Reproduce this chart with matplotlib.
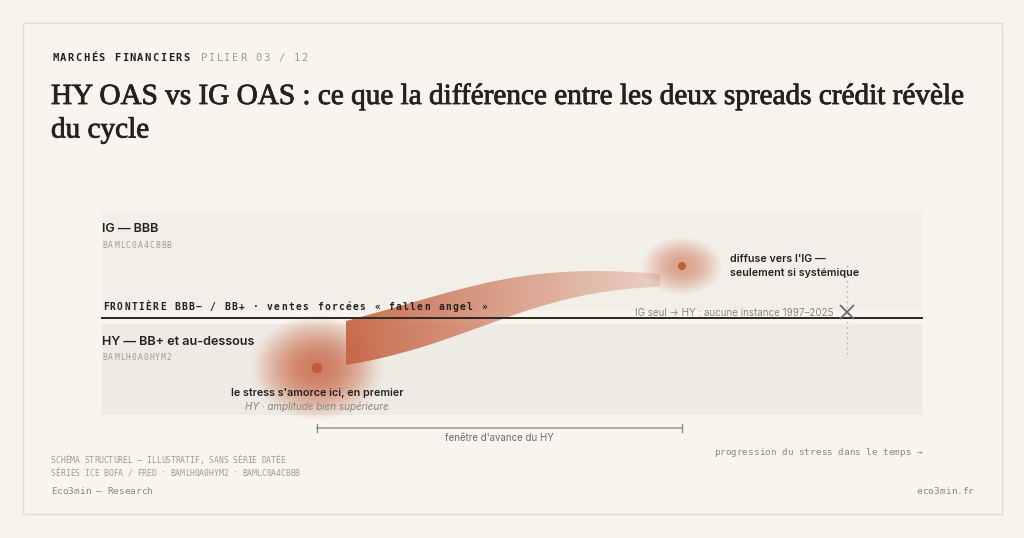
import numpy as np
import matplotlib
matplotlib.use("Agg")
import matplotlib.pyplot as plt
import matplotlib.patheffects as pe
from matplotlib.patches import Rectangle, PathPatch
from matplotlib.path import Path

W, H = 1024, 538

# texts
kicker = "MARCHÉS FINANCIERS"
kicker_tag = "PILIER 03 / 12"
title_lines = ["HY OAS vs IG OAS : ce que la différence entre les deux spreads crédit révèle",
               "du cycle"]
band_names = ["IG — BBB", "HY — BB+ et au-dessous"]
band_codes = ["BAMLC0A4CBBB", "BAMLH0A0HYM2"]
frontier_label = "FRONTIÈRE BBB− / BB+ · ventes forcées « fallen angel »"
start_label = ["le stress s'amorce ici, en premier", "HY · amplitude bien supérieure"]
end_label = ["diffuse vers l'IG —", "seulement si systémique"]
no_instance_label = "IG seul → HY : aucune instance 1997–2025"
window_label = "fenêtre d'avance du HY"
time_label = "progression du stress dans le temps →"
footer_notes = ["SCHÉMA STRUCTUREL — ILLUSTRATIF, SANS SÉRIE DATÉE",
                "SÉRIES ICE BOFA / FRED · BAMLH0A0HYM2 · BAMLC0A4CBBB"]
brand_left = "Eco3min — Research"
brand_right = "eco3min.fr"

# schematic geometry (pixel units)
band_top = [212, 324]
band_bottom = [311, 415]
band_left, band_right = 102, 922
band_colors = ["#f2efe9", "#eeebe4"]
frontier_y = 317.5
stress_x = [317, 682]
stress_y = [368, 266]
glow_rx = [68, 42]
glow_ry = [54, 30]
glow_peak = [0.82, 0.55]
dot_r = [5.2, 4.0]
ribbon_top = [(346, 321), (470, 288), (520, 262), (660, 274)]
ribbon_bottom = [(346, 365), (470, 345), (530, 290), (660, 287)]
no_instance_x = 846.5
no_instance_y = 312
window_y = 427.5

BG = "#f7f4ee"
DARK = "#242220"
GREY = "#8a8680"
LIGHTGREY = "#a09c95"
RUST = (0.78, 0.39, 0.26)
DOT = "#c25a38"
SANS = ["Inter", "DejaVu Sans"]
MONO = ["DejaVu Sans Mono"]

fig = plt.figure(figsize=(W / 100, H / 100), dpi=100, facecolor=BG)
ax = fig.add_axes([0, 0, 1, 1])
ax.set_xlim(0, W)
ax.set_ylim(H, 0)
ax.axis("off")
ax.set_facecolor(BG)

# card
ax.add_patch(Rectangle((22.7, 22.7), 979, 491.6, facecolor="#f8f5ef",
                       edgecolor="#e2dccd", lw=1.0, zorder=0))


def spaced(x, y, s, step, ha="left", **kw):
    n = len(s)
    x0 = x if ha == "left" else x - n * step
    for i, ch in enumerate(s):
        ax.text(x0 + (i + 0.5) * step, y, ch, ha="center", va="baseline", **kw)


# header
spaced(51.5, 61, kicker, 7.72, fontsize=7.6, family=MONO, weight="bold", color=DARK)
spaced(200.5, 61, kicker_tag, 7.72, fontsize=7.6, family=MONO, color=LIGHTGREY)

# title, fitted to the reference width
renderer = fig.canvas.get_renderer()
semibold = [pe.withStroke(linewidth=0.6, foreground=DARK)]
t1 = ax.text(51, 104, title_lines[0], fontsize=19, family=["Liberation Serif"],
             color=DARK, va="baseline", path_effects=semibold)
w = t1.get_window_extent(renderer).width
fs = 19 * 915 / w
t1.set_fontsize(fs)
ax.text(51, 137.5, title_lines[1], fontsize=fs, family=["Liberation Serif"],
        color=DARK, va="baseline", path_effects=semibold)

# bands
for top, bot, c in zip(band_top, band_bottom, band_colors):
    ax.add_patch(Rectangle((band_left, top), band_right - band_left, bot - top,
                           facecolor=c, edgecolor="none", zorder=1))
ax.plot([band_left, band_right], [frontier_y, frontier_y], color="#2a2826", lw=1.4, zorder=6)

name_base = [232, 345]
code_base = [248, 360]
for nm, cd, nb, cb in zip(band_names, band_codes, name_base, code_base):
    ax.text(band_left, nb, nm, fontsize=9.1, family=SANS, weight="semibold",
            color=DARK, va="baseline", zorder=7)
    spaced(band_left, cb, cd, 5.85, fontsize=5.8, family=MONO, color=LIGHTGREY, zorder=7)

spaced(102, 310, frontier_label, 7.14, fontsize=6.9, family=MONO, weight="bold",
       color=DARK, zorder=7)

# glows
for cx, cy, rx, ry, pk in zip(stress_x, stress_y, glow_rx, glow_ry, glow_peak):
    gx = np.linspace(-1, 1, 241)
    gxx, gyy = np.meshgrid(gx, gx)
    r2 = np.clip(gxx ** 2 + gyy ** 2, 0, 1)
    a = pk * (1 - r2) ** 1.3
    img = np.zeros((241, 241, 4))
    img[..., 0], img[..., 1], img[..., 2] = RUST
    img[..., 3] = a
    ax.imshow(img, extent=(cx - rx, cx + rx, cy + ry, cy - ry), interpolation="bilinear",
              aspect="auto", zorder=3)


# ribbon
def bezier(p, n=80):
    p = np.array(p, dtype=float)
    t = np.linspace(0, 1, n)[:, None]
    return ((1 - t) ** 3 * p[0] + 3 * (1 - t) ** 2 * t * p[1]
            + 3 * (1 - t) * t ** 2 * p[2] + t ** 3 * p[3])


top = bezier(ribbon_top)
bot = bezier(ribbon_bottom)[::-1]
verts = np.vstack([top, bot, top[:1]])
ribbon = PathPatch(Path(verts), facecolor="none", edgecolor="none")
ax.add_patch(ribbon)
x0, x1 = ribbon_top[0][0], ribbon_top[-1][0]
ymin = min(p[1] for p in ribbon_top)
ymax = max(p[1] for p in ribbon_bottom)
grad = np.zeros((2, 300, 4))
grad[..., 0], grad[..., 1], grad[..., 2] = RUST
grad[..., 3] = np.linspace(0.92, 0.22, 300)
im = ax.imshow(grad, extent=(x0, x1, ymax, ymin), aspect="auto", interpolation="bilinear",
               zorder=4)
im.set_clip_path(ribbon)

# dots
for cx, cy, rr in zip(stress_x, stress_y, dot_r):
    ax.add_patch(plt.Circle((cx, cy), rr, color=DOT, zorder=5, lw=0))

# annotations
ax.text(stress_x[0], 396.5, start_label[0], fontsize=7.7, family=SANS, weight="semibold",
        color=DARK, ha="center", va="baseline", zorder=7)
ax.text(stress_x[0], 409.5, start_label[1], fontsize=7.1, family=SANS, style="italic",
        color=GREY, ha="center", va="baseline", zorder=7)
ax.text(730.5, 261.5, end_label[0], fontsize=7.7, family=SANS, weight="semibold",
        color=DARK, va="baseline", zorder=7)
ax.text(730.5, 276.5, end_label[1], fontsize=7.7, family=SANS, weight="semibold",
        color=DARK, va="baseline", zorder=7)
ax.text(834, 315.5, no_instance_label, fontsize=7.1, family=SANS, color=GREY,
        ha="right", va="baseline", zorder=7)
ax.plot([no_instance_x, no_instance_x], [265, 357], color="#b9b5ae", lw=1.0,
        ls=(0, (1.2, 2.5)), zorder=5)
ax.plot([no_instance_x], [no_instance_y], marker="x", ms=9.5, mew=1.3, color="#6e6a65", zorder=8)

# lead window bracket
ax.plot(stress_x, [window_y, window_y], color="#aaa6a0", lw=1.3, zorder=5)
for xe in stress_x:
    ax.plot([xe, xe], [window_y - 4, window_y + 4], color="#8f8b85", lw=1.0, zorder=5)
ax.text(sum(stress_x) / 2, 441, window_label, fontsize=7.0, family=SANS, color="#6f6b66",
        ha="center", va="baseline")

spaced(922, 455, time_label, 5.63, ha="right", fontsize=6.7, family=MONO, color=GREY)

# footer
spaced(51, 463.3, footer_notes[0], 4.78, fontsize=5.9, family=MONO, color=LIGHTGREY)
spaced(51, 475.7, footer_notes[1], 4.78, fontsize=5.9, family=MONO, color=LIGHTGREY)
spaced(51, 494.3, brand_left, 5.62, fontsize=6.8, family=MONO, color=GREY)
spaced(973.5, 494.3, brand_right, 5.7, ha="right", fontsize=6.8, family=MONO, color=GREY)

fig.savefig("out.png", dpi=100, facecolor=BG)
